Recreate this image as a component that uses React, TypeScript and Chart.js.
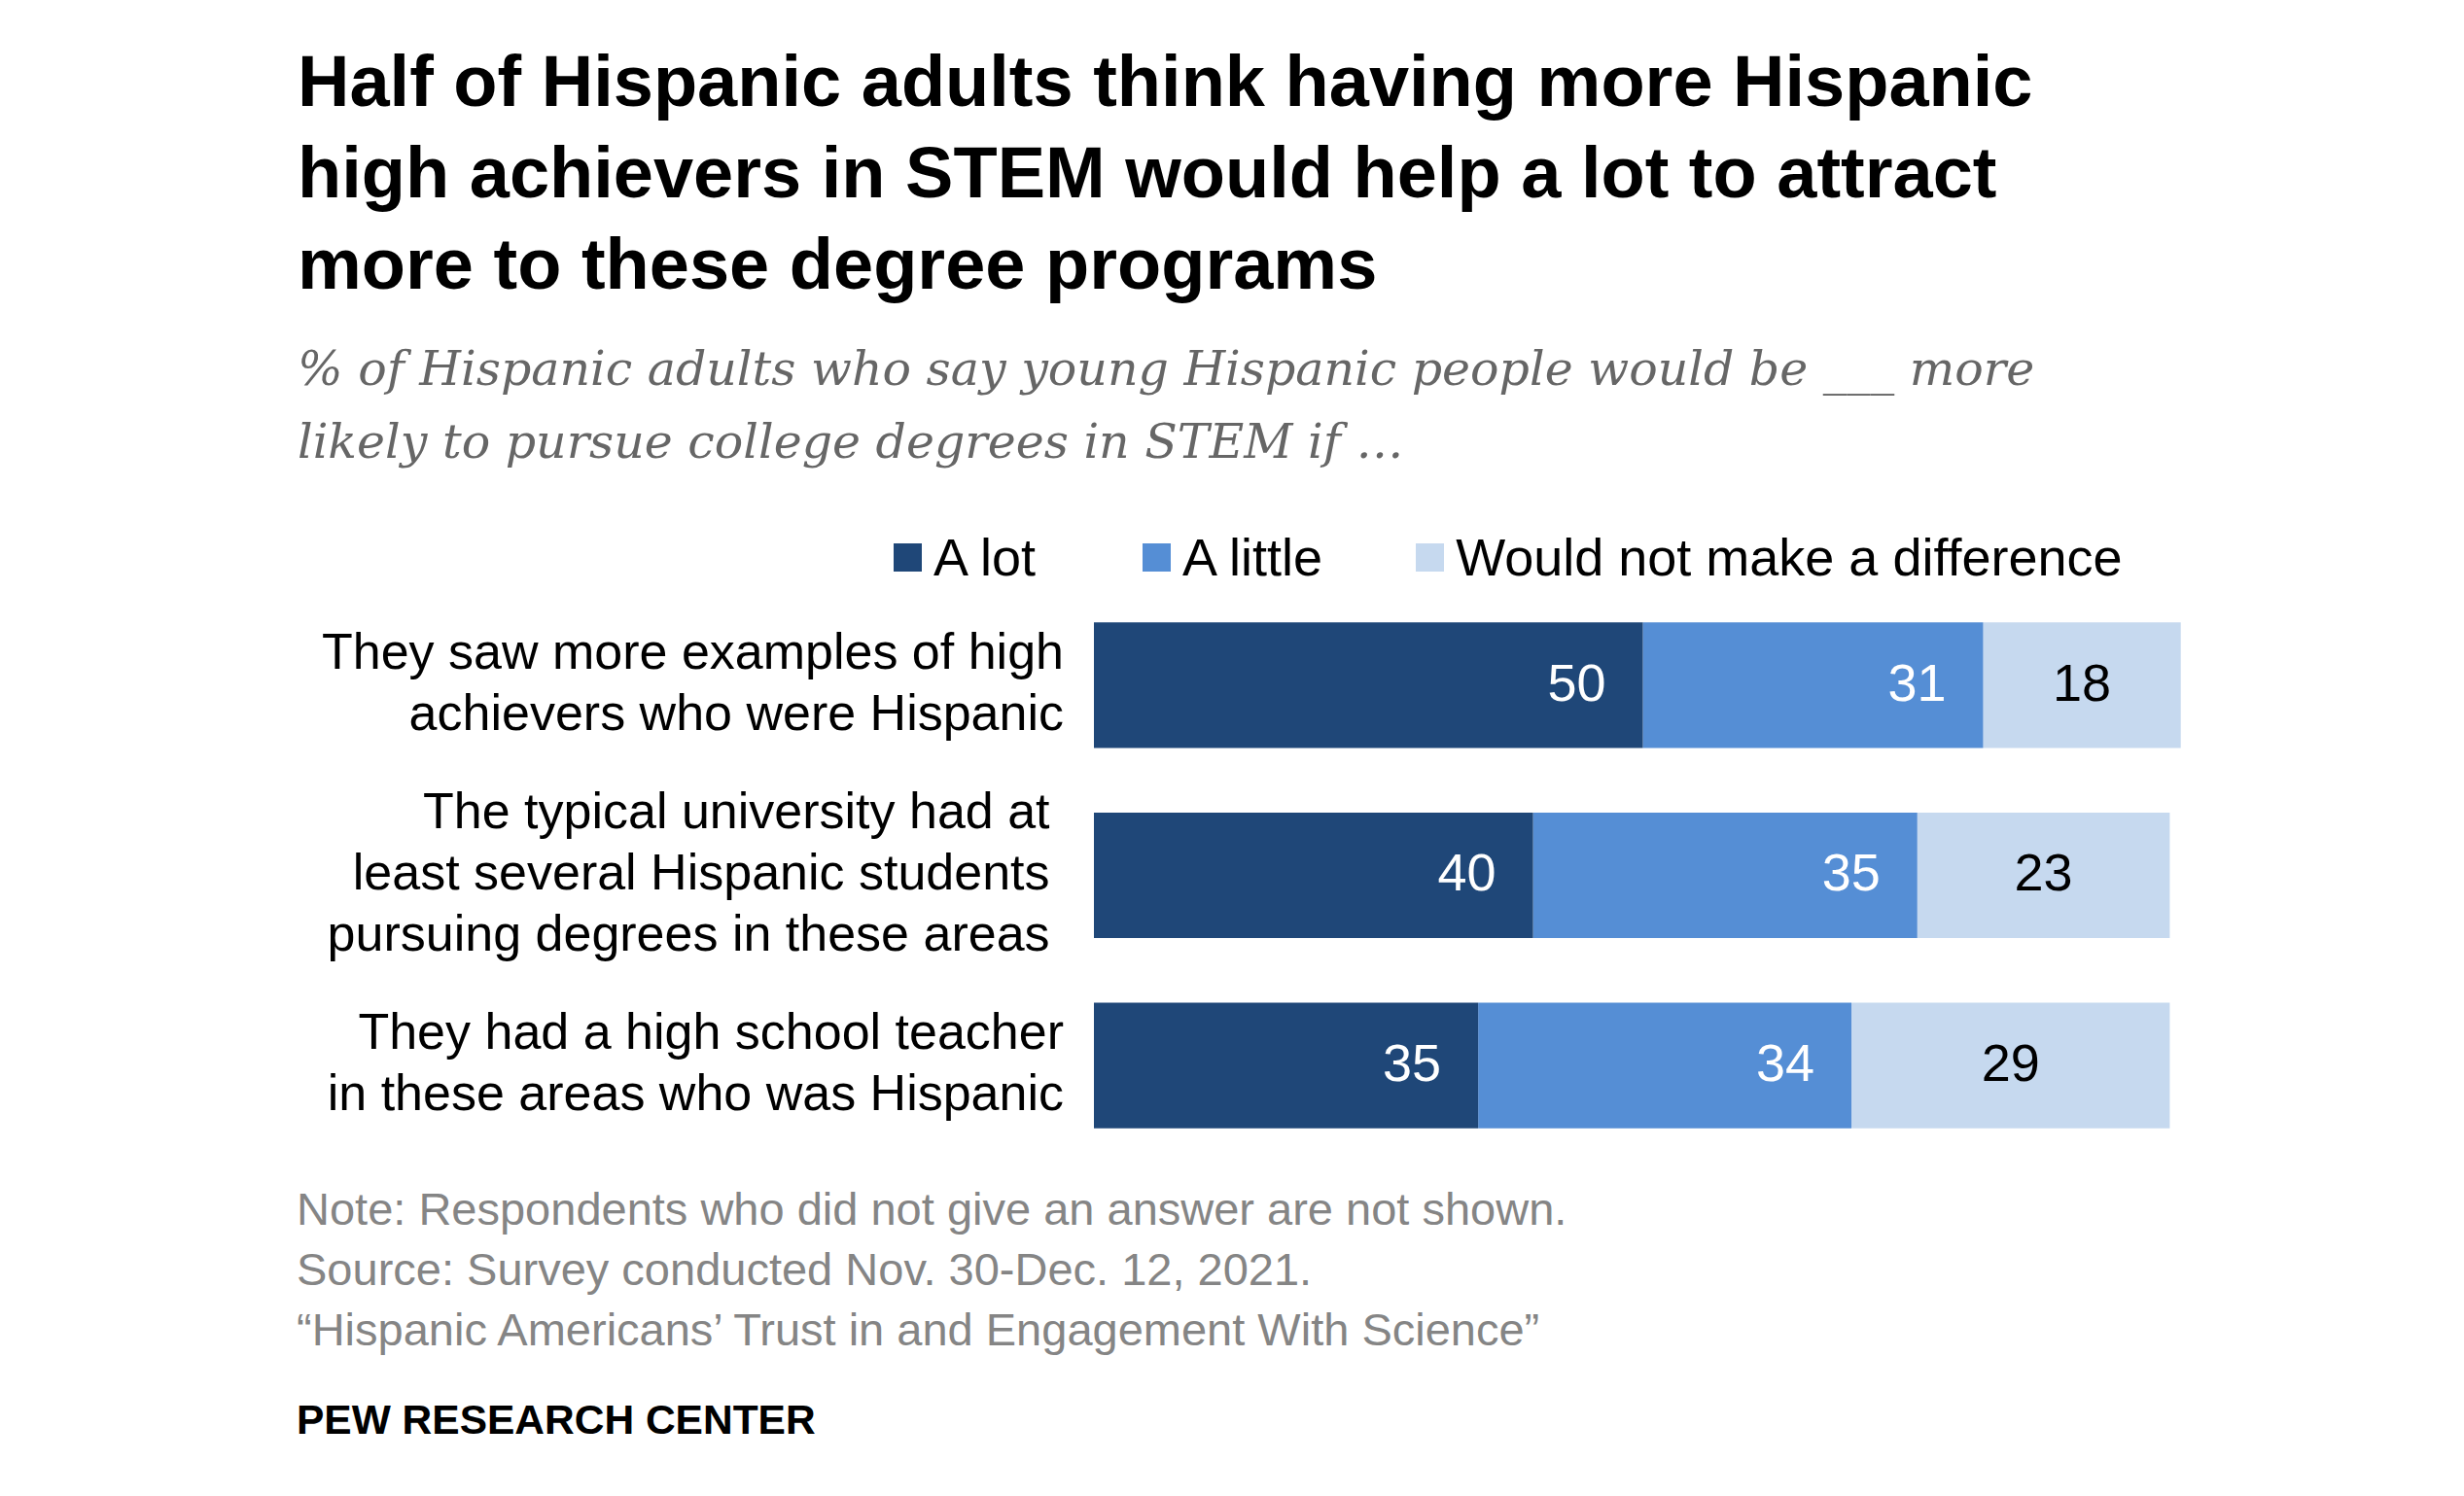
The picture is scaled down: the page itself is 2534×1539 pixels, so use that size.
import React, { useEffect, useRef } from "react";
import { Chart, registerables } from "chart.js";

Chart.register(...registerables);

// ---- Data ----
const categories: string[][] = [
  ["They saw more examples of high", "achievers who were Hispanic"],
  ["The typical university had at ", "least several Hispanic students ", "pursuing degrees in these areas "],
  ["They had a high school teacher", "in these areas who was Hispanic"],
];
const seriesNames = ["A lot", "A little", "Would not make a difference"];
const aLot = [50, 40, 35];
const aLittle = [31, 35, 34];
const noDifference = [18, 23, 29];
const seriesColors = ["#1f4778", "#558ed5", "#c6d9ef"];
const labelColors = ["#ffffff", "#ffffff", "#000000"];

const titleLines = [
  "Half of Hispanic adults think having more Hispanic",
  "high achievers in STEM would help a lot to attract",
  "more to these degree programs",
];
const subtitleLines = [
  "% of Hispanic adults who say young Hispanic people would be ___ more",
  "likely to pursue college degrees in STEM if \u2026",
];
const noteLines = [
  "Note: Respondents who did not give an answer are not shown.",
  "Source: Survey conducted Nov. 30-Dec. 12, 2021.",
  "\u201cHispanic Americans\u2019 Trust in and Engagement With Science\u201d",
];
const sourceName = "PEW RESEARCH CENTER";

const SANS = "'Liberation Sans', Arial, Helvetica, sans-serif";
const SERIF = "'DejaVu Serif', Georgia, serif";
const legendGaps = [0, 110, 96];

const valueLabels = {
  id: "valueLabels",
  afterDatasetsDraw(chart: any) {
    const ctx = chart.ctx;
    ctx.save();
    ctx.font = `54px ${SANS}`;
    ctx.textBaseline = "middle";
    chart.data.datasets.forEach((ds: any, di: number) => {
      const meta = chart.getDatasetMeta(di);
      meta.data.forEach((el: any, i: number) => {
        const { x, y, base } = el.getProps(["x", "y", "base"], true);
        const v = ds.data[i];
        ctx.fillStyle = labelColors[di];
        if (di < 2) {
          ctx.textAlign = "right";
          ctx.fillText(String(v), x - 38, y + 1);
        } else {
          ctx.textAlign = "center";
          ctx.fillText(String(v), (x + base) / 2, y + 1);
        }
      });
    });
    ctx.restore();
  },
};

export default function App() {
  const canvasRef = useRef<HTMLCanvasElement | null>(null);

  useEffect(() => {
    if (!canvasRef.current) return;
    const chart = new Chart(canvasRef.current, {
      type: "bar",
      data: {
        labels: categories,
        datasets: [
          { label: seriesNames[0], data: aLot, backgroundColor: seriesColors[0] },
          { label: seriesNames[1], data: aLittle, backgroundColor: seriesColors[1] },
          { label: seriesNames[2], data: noDifference, backgroundColor: seriesColors[2] },
        ].map((d) => ({ ...d, borderWidth: 0, barPercentage: 0.66, categoryPercentage: 1 })),
      },
      options: {
        indexAxis: "y",
        responsive: false,
        animation: false,
        maintainAspectRatio: false,
        layout: { padding: { left: 0, right: 280, top: 0, bottom: 0 } },
        plugins: {
          legend: { display: false },
          title: { display: false },
          tooltip: { enabled: false },
        },
        scales: {
          x: {
            stacked: true,
            min: 0,
            max: 100,
            display: false,
          },
          y: {
            stacked: true,
            grid: { display: false, drawTicks: false },
            border: { display: false },
            ticks: {
              color: "#000000",
              padding: 31,
              font: { family: SANS, size: 52, lineHeight: 1.21 },
            },
            afterFit(scale: any) {
              scale.width = 1125;
              scale.paddingTop = 0;
              scale.paddingBottom = 0;
            },
          },
        },
      } as any,
      plugins: [valueLabels],
    });
    return () => chart.destroy();
  }, []);

  const textBlock = (lines: string[], style: React.CSSProperties) => (
    <div style={{ position: "absolute", whiteSpace: "nowrap", ...style }}>
      {lines.map((l, i) => (
        <div key={i}>{l}</div>
      ))}
    </div>
  );

  return (
    <div
      style={{
        position: "absolute",
        left: 0,
        top: 0,
        width: 2534,
        height: 1539,
        background: "#ffffff",
        overflow: "hidden",
      }}
    >
      {textBlock(titleLines, {
        left: 306,
        top: 37,
        fontFamily: SANS,
        fontWeight: 700,
        fontSize: 74,
        lineHeight: "94px",
        color: "#000000",
      })}
      {textBlock(subtitleLines, {
        left: 306,
        top: 342,
        fontFamily: SERIF,
        fontStyle: "italic",
        fontSize: 49,
        lineHeight: "75px",
        color: "#666666",
      })}
      <div
        style={{
          position: "absolute",
          left: 919,
          top: 553,
          height: 40,
          display: "flex",
          alignItems: "center",
          fontFamily: SANS,
          fontSize: 54,
          color: "#000000",
          whiteSpace: "nowrap",
        }}
      >
        {seriesNames.map((n, i) => (
          <div key={n} style={{ display: "flex", alignItems: "center", marginLeft: legendGaps[i] }}>
            <span
              style={{
                display: "inline-block",
                width: 29,
                height: 29,
                background: seriesColors[i],
                marginRight: 12,
              }}
            />
            <span style={{ lineHeight: "40px" }}>{n}</span>
          </div>
        ))}
      </div>
      <canvas
        ref={canvasRef}
        width={2534}
        height={587}
        style={{ position: "absolute", left: 0, top: 607, width: 2534, height: 587 }}
      />
      {textBlock(noteLines, {
        left: 305,
        top: 1213,
        fontFamily: SANS,
        fontSize: 47,
        lineHeight: "62px",
        color: "#858585",
      })}
      {textBlock([sourceName], {
        left: 305,
        top: 1436,
        fontFamily: SANS,
        fontWeight: 700,
        fontSize: 42.5,
        lineHeight: "50px",
        color: "#000000",
      })}
    </div>
  );
}
